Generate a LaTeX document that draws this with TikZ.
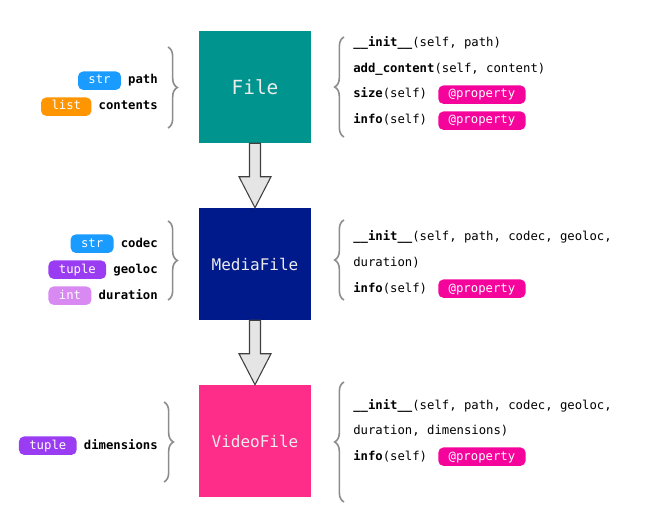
\documentclass[tikz,border=0pt]{standalone}
\usepackage{fontspec}
\setmonofont{DejaVu Sans Mono}
\usetikzlibrary{positioning,calc,decorations.pathreplacing}
\definecolor{fileteal}{HTML}{00948F}
\definecolor{medianavy}{HTML}{001A8C}
\definecolor{videopink}{HTML}{FF2D8A}
\definecolor{propmag}{HTML}{F5049B}
\definecolor{strblue}{HTML}{1A9BFF}
\definecolor{listorange}{HTML}{FF9500}
\definecolor{tuplepurple}{HTML}{9A3CF2}
\definecolor{intlilac}{HTML}{D98AF2}
\definecolor{bracegray}{HTML}{8C8C8C}
\tikzset{
  cls/.style={fill=#1, minimum size=84pt, inner sep=0pt, text=white!92!black,
    font=\ttfamily\fontsize{12}{14}\selectfont},
  pill/.style={fill=#1, text=white, rounded corners=3.8pt, inner xsep=7.8pt, inner ysep=0pt,
    minimum height=13.8pt, text height=0.72em, text depth=0.22em,
    font=\ttfamily\fontsize{9.2}{11}\selectfont},
  arg/.style={inner sep=0pt, text height=0.72em, text depth=0.22em,
    font=\ttfamily\bfseries\fontsize{9.2}{11}\selectfont},
  meth/.style={inner sep=0pt, text height=0.72em, text depth=0.22em,
    font=\ttfamily\fontsize{9.2}{11}\selectfont},
  grp/.style={decorate, decoration={brace, amplitude=7pt}, draw=bracegray, line width=1.2pt},
  inherit/.style={fill=black!10, draw=black!75, line width=0.8pt, line join=miter}
}
\begin{document}
\begin{tikzpicture}[x=0.75pt,y=-0.75pt]
\useasboundingbox (0,0) rectangle (670,524);

\node[cls=fileteal, font=\ttfamily\fontsize{14.6}{17}\selectfont] (file) at (255,87) {File};
\node[cls=medianavy] (media) at (255,264) {MediaFile};
\node[cls=videopink] (video) at (255,441) {VideoFile};

\draw[inherit] ($(file.south)+(-5.5,0)$) -- ($(media.north)+(-5.5,-31)$) -- ($(media.north)+(-16,-31)$)
  -- (media.north) -- ($(media.north)+(16,-31)$) -- ($(media.north)+(5.5,-31)$) -- ($(file.south)+(5.5,0)$) -- cycle;
\draw[inherit] ($(media.south)+(-5.5,0)$) -- ($(video.north)+(-5.5,-31)$) -- ($(video.north)+(-16,-31)$)
  -- (video.north) -- ($(video.north)+(16,-31)$) -- ($(video.north)+(5.5,-31)$) -- ($(media.south)+(5.5,0)$) -- cycle;

\coordinate (fl1) at (168,47);
\coordinate (fl2) at (168,128);
\coordinate (ml1) at (168,221);
\coordinate (ml2) at (168,300);
\coordinate (vl1) at (164,402);
\coordinate (vl2) at (164,482);
\coordinate (fr1) at (344,137);
\coordinate (fr2) at (344,37);
\coordinate (mr1) at (344,300);
\coordinate (mr2) at (344,220);
\coordinate (vr1) at (344,502);
\coordinate (vr2) at (344,382);

\draw[grp] (fl1) -- (fl2);
\draw[grp] (ml1) -- (ml2);
\draw[grp] (vl1) -- (vl2);
\draw[grp] (fr1) -- (fr2);
\draw[grp] (mr1) -- (mr2);
\draw[grp] (vr1) -- (vr2);

\node[arg, anchor=base east] (fpath) at (158,84) {path};
\node[pill=strblue, left=5pt of fpath] (fpatht) {str};
\node[arg, anchor=base east] (fcont) at (158,110) {contents};
\node[pill=listorange, left=5pt of fcont] (fcontt) {list};

\node[arg, anchor=base east] (mcodec) at (158,247) {codec};
\node[pill=strblue, left=5pt of mcodec] (mcodect) {str};
\node[arg, anchor=base east] (mgeo) at (158,273) {geoloc};
\node[pill=tuplepurple, left=5pt of mgeo] (mgeot) {tuple};
\node[arg, anchor=base east] (mdur) at (158,299) {duration};
\node[pill=intlilac, left=5pt of mdur] (mdurt) {int};

\node[arg, anchor=base east] (vdim) at (158,449) {dimensions};
\node[pill=tuplepurple, left=5pt of vdim] (vdimt) {tuple};

\node[meth, anchor=base west] (finit) at (353,47) {\textbf{\_\_init\_\_}(self, path)};
\node[meth, anchor=base west] (fadd) at (353,72.5) {\textbf{add\_content}(self, content)};
\node[meth, anchor=base west] (fsize) at (353,98) {\textbf{size}(self)};
\node[pill=propmag, right=8pt of fsize] (fsizep) {@property};
\node[meth, anchor=base west] (finfo) at (353,124) {\textbf{info}(self)};
\node[pill=propmag, right=8pt of finfo] (finfop) {@property};

\node[meth, anchor=base west] (minit) at (353,240.7) {\textbf{\_\_init\_\_}(self, path, codec, geoloc,};
\node[meth, anchor=base west] (minit2) at (353,266.7) {duration)};
\node[meth, anchor=base west] (minfo) at (353,292) {\textbf{info}(self)};
\node[pill=propmag, right=8pt of minfo] (minfop) {@property};

\node[meth, anchor=base west] (vinit) at (353,409) {\textbf{\_\_init\_\_}(self, path, codec, geoloc,};
\node[meth, anchor=base west] (vinit2) at (353,434) {duration, dimensions)};
\node[meth, anchor=base west] (vinfo) at (353,460) {\textbf{info}(self)};
\node[pill=propmag, right=8pt of vinfo] (vinfop) {@property};

\end{tikzpicture}
\end{document}
